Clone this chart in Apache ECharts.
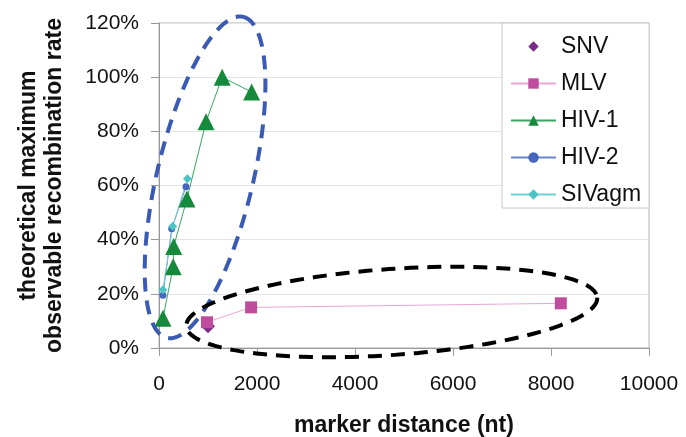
<!DOCTYPE html>
<html>
<head>
<meta charset="utf-8">
<script src="https://cdn.jsdelivr.net/npm/echarts@6/dist/echarts.min.js"></script>
<style>
  html, body { margin: 0; padding: 0; background: #fff; }
  #chart { width: 686px; height: 437px; }
</style>
</head>
<body>
<div id="chart"></div>
<script>
// values: [marker distance (nt), rate (%)]
const snv = [[1000, 8]];
const mlv = [[980, 9.5], [1880, 15], [8200, 16.5]];
const hiv1 = [[80, 11], [290, 30], [300, 37.5], [570, 55], [960, 83.5], [1290, 100], [1890, 94.5]];
const hiv2 = [[80, 19.5], [260, 44], [550, 59.5]];
const sivagm = [[80, 21.5], [280, 45], [580, 62.5]];

const yTicks = [0, 20, 40, 60, 80, 100, 120];
const xTicks = [0, 2000, 4000, 6000, 8000, 10000];

const font = "Liberation Sans, Arial, sans-serif";

const myChart = echarts.init(document.getElementById("chart"));

function lineSeries(name, data, color, lineColor, symbol, size) {
  return {
    name: name,
    type: "line",
    data: data,
    symbol: symbol,
    symbolSize: size,
    itemStyle: { color: color },
    lineStyle: { color: lineColor, width: 1 },
    emphasis: { disabled: true },
    animation: false,
    z: 3,
  };
}

const options = {
  animation: false,
  grid: {
    left: 159, right: 37, top: 23, bottom: 89,
    outerBoundsMode: "none",
    show: true, borderColor: "#b0b0b0", borderWidth: 1,
  },
  xAxis: {
    type: "value",
    min: xTicks[0], max: xTicks[xTicks.length - 1], interval: 2000,
    name: "marker distance (nt)",
    nameLocation: "middle",
    nameGap: 66,
    nameTextStyle: { fontFamily: font, fontSize: 23, fontWeight: "bold", color: "#111" },
    axisLine: { show: true, lineStyle: { color: "#999" } },
    axisTick: { show: true, length: 8, lineStyle: { color: "#999" } },
    axisLabel: { fontFamily: font, fontSize: 21, color: "#111", margin: 26, formatter: (v) => String(v) },
    splitLine: { show: false },
  },
  yAxis: {
    type: "value",
    min: yTicks[0], max: yTicks[yTicks.length - 1], interval: 20,
    name: "theoretical maximum\nobservable recombination rate",
    nameLocation: "middle",
    nameRotate: 90,
    nameGap: 91,
    nameTextStyle: { fontFamily: font, fontSize: 23, fontWeight: "bold", color: "#111", lineHeight: 26 },
    axisLine: { show: true, lineStyle: { color: "#999" } },
    axisTick: { show: true, length: 8, lineStyle: { color: "#999" } },
    axisLabel: { fontFamily: font, fontSize: 21, color: "#111", margin: 20, formatter: "{value}%" },
    splitLine: { show: true, lineStyle: { color: "#e4e4e4" } },
  },
  legend: {
    orient: "vertical",
    left: 502, top: 23,
    width: 145,
    padding: [12, 8, 2, 8],
    backgroundColor: "#fff",
    borderColor: "#c8c8c8",
    borderWidth: 1,
    itemWidth: 45,
    itemHeight: 13,
    itemGap: 14,
    textStyle: { fontFamily: font, fontSize: 23, color: "#111" },
    data: ["SNV", "MLV", "HIV-1", "HIV-2", "SIVagm"],
  },
  series: [
    Object.assign(lineSeries("SNV", snv, "#7a2a88", "rgba(0,0,0,0)", "diamond", 14), { lineStyle: { width: 0, opacity: 0 } }),
    lineSeries("MLV", mlv, "#c04c9e", "#e9a6d4", "rect", 12),
    lineSeries("HIV-1", hiv1, "#168a3c", "#3aa462", "triangle", 17),
    lineSeries("HIV-2", hiv2, "#4566bd", "#6a86cc", "circle", 7),
    lineSeries("SIVagm", sivagm, "#4cc4c6", "#6fd0d2", "diamond", 9),
  ],
};

myChart.setOption(options);

// hand-drawn dashed ellipses (annotations), placed in data units
const ellipses = [
  { center: [940, 63], a: 165, b: 48, rot: -76.6, color: "#3b5bb3" },
  { center: [4750, 13.3], a: 206, b: 43, rot: -4, color: "#000" },
];

function ellipsePoints(e) {
  const c = myChart.convertToPixel({ gridIndex: 0 }, e.center);
  const pts = [];
  const r = (e.rot * Math.PI) / 180;
  for (let i = 0; i < 120; i++) {
    const t = (i / 120) * Math.PI * 2;
    const x = e.a * Math.cos(t);
    const y = e.b * Math.sin(t);
    pts.push([c[0] + x * Math.cos(r) - y * Math.sin(r), c[1] + x * Math.sin(r) + y * Math.cos(r)]);
  }
  return pts;
}

myChart.setOption({
  graphic: ellipses.map((e) => ({
    type: "polygon",
    shape: { points: ellipsePoints(e) },
    style: { fill: "none", stroke: e.color, lineWidth: 4, lineDash: [14, 9] },
    z: 10,
    silent: true,
  })),
});
</script>
</body>
</html>
